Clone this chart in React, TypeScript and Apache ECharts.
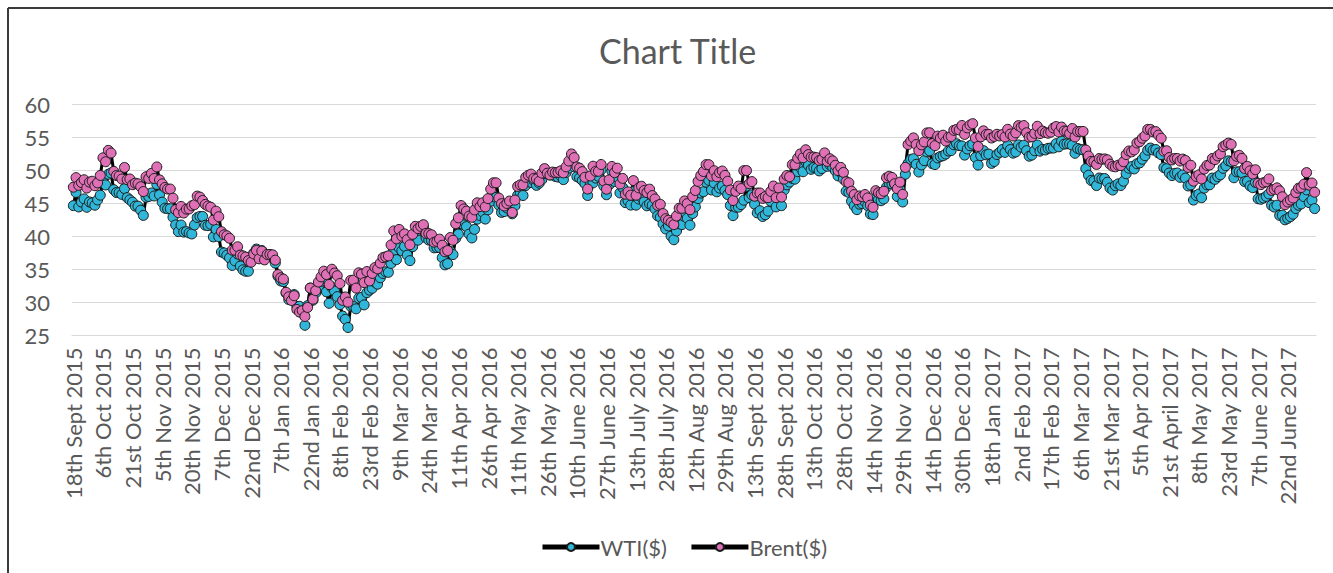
import React, { useEffect, useRef } from "react";
import * as echarts from "echarts";

const tickLabels = [
  "18th Sept 2015", "6th Oct 2015", "21st Oct 2015", "5th Nov 2015", "20th Nov 2015",
  "7th Dec 2015", "22nd Dec 2015", "7th Jan 2016", "22nd Jan 2016", "8th Feb 2016",
  "23rd Feb 2016", "9th Mar 2016", "24th Mar 2016", "11th Apr 2016", "26th Apr 2016",
  "11th May 2016", "26th May 2016", "10th June 2016", "27th June 2016", "13th July 2016",
  "28th July 2016", "12th Aug 2016", "29th Aug 2016", "13th Sept 2016", "28th Sept 2016",
  "13th Oct 2016", "28th Oct 2016", "14th Nov 2016", "29th Nov 2016", "14th Dec 2016",
  "30th Dec 2016", "18th Jan 2017", "2nd Feb 2017", "17th Feb 2017", "6th Mar 2017",
  "21st Mar 2017", "5th Apr 2017", "21st April 2017", "8th May 2017", "23rd May 2017",
  "7th June 2017", "22nd June 2017",
];

const wti = [
  44.68, 46.68, 44.48, 45.22, 45.70, 44.43, 45.23, 45.09, 44.74, 45.54, 46.26,
  48.53, 47.81, 49.43, 49.63, 47.10, 46.66, 46.64, 46.38, 47.26, 45.89, 45.55,
  45.20, 44.60, 44.60, 43.98, 43.20, 45.94, 46.06, 46.59, 46.14, 47.90, 46.32,
  45.20, 44.29, 44.21, 44.21, 42.93, 41.75, 40.74, 41.74, 40.67, 40.75, 40.54,
  40.39, 41.75, 42.87, 43.04, 43.04, 41.71, 41.65, 41.85, 39.94, 41.08, 39.97,
  37.65, 37.51, 37.16, 36.76, 35.62, 36.31, 37.35, 35.52, 34.95, 34.73, 34.74,
  36.14, 37.50, 38.10, 36.81, 37.87, 36.60, 37.04, 37.04, 36.76, 35.97, 33.97,
  33.27, 33.16, 31.41, 30.44, 30.48, 31.20, 29.42, 29.42, 28.46, 26.55, 29.53,
  32.19, 30.34, 31.45, 32.30, 33.22, 33.62, 31.62, 29.88, 32.28, 31.72, 30.89,
  29.69, 27.94, 27.45, 26.21, 29.44, 29.44, 29.04, 30.66, 30.77, 29.64, 31.48,
  31.87, 32.15, 33.07, 32.78, 33.75, 34.40, 34.66, 34.57, 35.92, 37.90, 36.50,
  38.29, 37.84, 38.50, 37.18, 36.34, 38.46, 40.20, 39.44, 41.52, 41.45, 39.79,
  39.46, 39.39, 38.28, 38.32, 38.34, 36.79, 35.70, 35.89, 37.75, 37.26, 39.72,
  40.36, 42.17, 41.76, 41.50, 40.36, 39.78, 41.08, 42.63, 43.18, 43.73, 42.64,
  44.04, 45.33, 46.03, 45.92, 44.78, 43.65, 43.78, 44.32, 44.66, 43.44, 44.66,
  46.23, 46.70, 46.21, 47.72, 48.31, 48.19, 48.49, 47.75, 48.08, 48.62, 49.56,
  49.48, 49.33, 49.33, 49.10, 49.01, 49.17, 48.62, 49.69, 50.36, 51.23, 50.56,
  49.07, 48.88, 48.49, 48.01, 46.21, 47.98, 48.12, 48.85, 49.13, 50.11, 47.64,
  46.33, 47.85, 49.88, 48.33, 48.99, 46.60, 47.43, 45.14, 45.41, 44.76, 46.80,
  44.75, 45.68, 45.95, 45.24, 44.65, 44.94, 44.75, 44.19, 43.13, 42.92, 41.92,
  41.14, 41.60, 40.06, 39.51, 40.83, 41.93, 41.80, 43.02, 42.77, 41.71, 43.49,
  44.49, 45.74, 46.58, 46.79, 48.22, 48.52, 47.05, 48.10, 46.77, 47.33, 47.64,
  46.98, 46.35, 44.70, 43.16, 44.44, 44.44, 44.83, 45.50, 47.62, 45.88, 46.29,
  44.90, 43.58, 43.91, 43.03, 43.30, 43.85, 45.34, 46.32, 44.48, 45.93, 44.67,
  47.05, 47.83, 48.24, 48.81, 48.69, 49.83, 50.44, 49.81, 51.35, 50.79, 50.18,
  50.44, 50.35, 49.94, 50.29, 51.60, 50.63, 50.85, 50.52, 49.96, 49.18, 49.72,
  48.70, 46.86, 46.67, 45.34, 44.66, 44.07, 44.89, 44.98, 45.27, 44.66, 43.41,
  43.32, 45.81, 45.57, 45.42, 45.69, 47.49, 48.03, 47.96, 47.96, 46.06, 47.08,
  45.23, 49.44, 51.06, 51.68, 51.79, 50.93, 49.77, 50.84, 51.50, 52.83, 52.98,
  51.04, 50.90, 51.90, 52.12, 52.23, 52.49, 52.95, 53.02, 53.90, 54.06, 53.77,
  53.72, 52.33, 53.26, 53.76, 53.99, 51.96, 50.82, 52.25, 53.01, 52.37, 52.48,
  51.08, 51.37, 52.42, 52.75, 53.18, 52.75, 53.78, 53.17, 52.63, 52.81, 53.88,
  53.54, 53.83, 53.01, 52.17, 52.34, 53.00, 53.86, 52.93, 53.20, 53.11, 53.36,
  53.40, 53.40, 54.06, 53.59, 54.45, 53.99, 54.05, 54.01, 53.83, 52.61, 53.33,
  53.20, 53.14, 50.28, 49.28, 48.49, 48.40, 47.72, 48.86, 48.75, 48.78, 48.22,
  47.34, 47.04, 47.70, 47.97, 47.73, 48.37, 49.51, 50.35, 50.60, 50.24, 51.03,
  51.15, 51.70, 52.24, 53.08, 53.40, 53.11, 53.18, 52.65, 52.41, 50.44, 50.27,
  49.62, 49.23, 49.56, 49.62, 48.97, 49.33, 48.84, 47.66, 47.82, 45.52, 46.22,
  46.43, 45.88, 47.33, 47.83, 47.84, 48.85, 48.66, 49.07, 49.35, 50.33, 50.73,
  51.47, 51.36, 48.90, 49.80, 49.80, 49.66, 48.32, 48.36, 47.66, 47.40, 48.19,
  45.72, 45.64, 45.83, 46.08, 46.46, 44.73, 44.46, 44.74, 43.20, 43.23, 42.53,
  42.74, 43.01, 43.38, 44.24, 44.74, 44.93, 46.04, 47.07, 45.13, 45.52, 44.23,
];

const brent = [
  47.47, 48.92, 47.75, 48.17, 48.60, 47.34, 48.23, 48.37, 47.69, 48.13, 49.25,
  51.92, 51.33, 53.05, 52.65, 49.86, 49.24, 49.15, 48.71, 50.46, 48.61, 48.71,
  47.85, 48.08, 47.99, 47.54, 46.81, 49.05, 48.80, 49.56, 48.79, 50.54, 48.58,
  47.98, 47.42, 47.19, 47.19, 45.81, 44.06, 43.61, 44.56, 43.57, 44.14, 44.18,
  44.66, 44.83, 46.12, 45.97, 45.46, 44.86, 44.61, 44.44, 42.49, 43.84, 43.00,
  40.73, 40.26, 40.11, 39.73, 37.93, 37.92, 38.45, 37.19, 37.06, 36.88, 36.35,
  36.11, 37.36, 37.89, 36.62, 37.79, 36.46, 37.28, 37.28, 37.22, 36.42, 34.23,
  33.75, 33.55, 31.55, 30.86, 30.31, 31.03, 28.94, 28.55, 28.76, 27.88, 29.25,
  32.18, 30.50, 31.80, 33.10, 33.89, 34.74, 34.24, 32.72, 35.04, 34.46, 34.06,
  32.88, 30.32, 30.84, 30.06, 33.36, 33.39, 32.18, 34.50, 34.28, 33.01, 34.69,
  33.27, 34.41, 35.29, 35.10, 35.97, 36.81, 36.93, 37.07, 38.72, 40.84, 39.65,
  41.07, 40.05, 40.39, 39.53, 38.74, 40.33, 41.54, 41.20, 41.54, 41.79, 40.47,
  40.44, 40.27, 39.14, 39.26, 39.60, 38.67, 37.69, 37.87, 39.84, 39.43, 41.94,
  42.83, 44.69, 44.18, 43.84, 43.10, 42.91, 44.03, 45.11, 44.53, 45.11, 44.48,
  45.74, 47.18, 48.14, 48.13, 45.83, 44.97, 44.62, 45.01, 45.37, 43.63, 45.52,
  47.59, 47.83, 47.83, 48.97, 49.28, 49.45, 48.81, 48.72, 48.35, 49.61, 50.29,
  49.59, 49.32, 49.76, 49.69, 49.72, 49.95, 49.64, 50.55, 51.44, 52.51, 51.95,
  50.54, 50.35, 49.83, 48.97, 47.19, 49.17, 50.65, 49.88, 49.88, 50.91, 48.41,
  47.16, 48.58, 50.61, 49.68, 50.35, 47.96, 48.80, 46.40, 46.76, 46.25, 48.47,
  46.26, 47.37, 47.61, 46.96, 46.66, 47.17, 46.20, 45.69, 44.72, 44.87, 43.47,
  42.70, 42.46, 42.14, 41.80, 43.10, 44.29, 44.27, 45.39, 44.98, 44.05, 46.04,
  46.97, 48.35, 49.23, 49.85, 50.89, 50.88, 49.16, 49.96, 49.05, 49.67, 49.92,
  49.26, 48.37, 47.04, 45.45, 46.83, 47.63, 47.26, 49.98, 49.99, 48.01, 48.32,
  46.10, 46.59, 46.59, 45.77, 46.05, 45.88, 46.83, 47.65, 45.89, 47.35, 45.97,
  48.69, 49.24, 49.06, 50.89, 50.87, 51.86, 52.51, 51.93, 53.14, 52.41, 52.03,
  52.03, 51.95, 51.52, 51.68, 52.67, 51.38, 51.78, 51.46, 50.79, 49.98, 50.47,
  49.71, 48.30, 48.14, 46.86, 46.35, 45.58, 46.15, 46.04, 46.36, 45.84, 44.75,
  44.43, 46.95, 46.63, 46.49, 46.86, 48.90, 49.12, 48.95, 48.00, 47.24, 48.24,
  46.38, 50.47, 53.94, 54.46, 54.94, 53.93, 53.00, 53.89, 54.33, 55.69, 55.72,
  54.08, 53.76, 55.21, 54.92, 55.35, 54.46, 55.05, 55.16, 56.09, 56.22, 56.14,
  56.82, 55.47, 56.46, 56.89, 57.10, 54.94, 53.64, 55.10, 56.01, 55.45, 55.47,
  54.92, 55.16, 55.49, 55.23, 55.44, 55.08, 56.24, 55.52, 55.23, 55.70, 56.80,
  56.56, 56.81, 55.72, 55.05, 55.12, 55.63, 56.70, 55.59, 55.97, 55.75, 55.65,
  55.81, 56.43, 56.66, 55.84, 56.58, 55.99, 55.93, 55.59, 56.36, 55.08, 55.90,
  55.92, 55.92, 53.11, 52.19, 51.37, 51.35, 50.92, 51.81, 51.70, 51.76, 51.62,
  50.96, 50.64, 50.56, 50.80, 50.75, 51.33, 52.42, 52.96, 52.83, 53.12, 54.17,
  54.36, 54.89, 55.24, 56.23, 56.23, 55.86, 55.89, 55.36, 54.89, 52.93, 52.99,
  51.96, 51.60, 51.82, 51.82, 51.44, 51.73, 51.52, 50.46, 50.79, 48.38, 49.10,
  49.34, 48.73, 50.22, 50.77, 50.84, 51.82, 51.65, 52.21, 52.51, 53.61, 53.87,
  54.15, 53.96, 51.46, 52.15, 52.30, 51.84, 50.31, 50.63, 49.95, 49.47, 50.12,
  48.06, 47.86, 48.15, 48.29, 48.72, 46.99, 47.14, 47.37, 46.91, 46.02, 44.82,
  45.22, 45.54, 45.83, 46.65, 47.31, 47.42, 47.92, 49.68, 47.79, 48.11, 46.71,
];

const LABEL_EVERY = 11;
const FONT = "Lato, 'Open Sans', sans-serif";
const TEXT = "#595959";

export default function App() {
  const ref = useRef<HTMLDivElement>(null);

  useEffect(() => {
    if (!ref.current) return;
    const chart = echarts.init(ref.current, null, { renderer: "svg" });
    const categories = wti.map((_, i) =>
      i % LABEL_EVERY === 0 ? tickLabels[i / LABEL_EVERY] : ""
    );
    const mk = (name: string, data: number[], fill: string) => ({
      name,
      type: "line",
      data,
      symbol: "circle",
      symbolSize: 10,
      showSymbol: true,
      showAllSymbol: true,
      lineStyle: { color: "#000", width: 3 },
      itemStyle: { color: fill, borderColor: "#1c1c1c", borderWidth: 1 },
      emphasis: { disabled: true },
    });
    chart.setOption({
      animation: false,
      backgroundColor: "#fff",
      textStyle: { fontFamily: FONT },
      title: {
        text: "Chart Title",
        left: 594,
        top: 28,
        textStyle: { fontFamily: FONT, fontSize: 34, fontWeight: "normal", color: TEXT },
      },
      legend: {
        data: ["WTI($)", "Brent($)"],
        left: 535,
        top: 531,
        itemWidth: 57,
        itemHeight: 10,
        itemGap: 22,
        lineStyle: { width: 5, color: "#000" },
        textStyle: { fontFamily: FONT, fontSize: 22, color: TEXT, padding: [0, 0, 0, -4] },
      },
      grid: { left: 72, right: 17, top: 104.5, bottom: 237.5, containLabel: false },
      xAxis: {
        type: "category",
        data: categories,
        boundaryGap: true,
        axisLine: { show: true, lineStyle: { color: "#d9d9d9", width: 1 } },
        axisTick: { show: false },
        axisLabel: {
          interval: LABEL_EVERY - 1,
          rotate: 90,
          margin: 12,
          fontFamily: FONT,
          fontSize: 22,
          color: TEXT,
        },
      },
      yAxis: {
        type: "value",
        min: 25,
        max: 60,
        interval: 5,
        axisLine: { show: false },
        axisTick: { show: false },
        axisLabel: { margin: 22, fontFamily: FONT, fontSize: 22, color: TEXT },
        splitLine: { lineStyle: { color: "#d9d9d9", width: 1 } },
      },
      graphic: [
        { type: "line", shape: { x1: 8, y1: 8, x2: 1333, y2: 8 }, style: { stroke: "#3a3a3a", lineWidth: 2 } },
        { type: "line", shape: { x1: 8, y1: 8, x2: 8, y2: 573 }, style: { stroke: "#3a3a3a", lineWidth: 2 } },
      ],
      series: [mk("WTI($)", wti, "#2fb6d8"), mk("Brent($)", brent, "#e070b6")],
    });
    return () => chart.dispose();
  }, []);

  return (
    <div
      ref={ref}
      style={{ position: "fixed", left: 0, top: 0, width: 1333, height: 573 }}
    />
  );
}
